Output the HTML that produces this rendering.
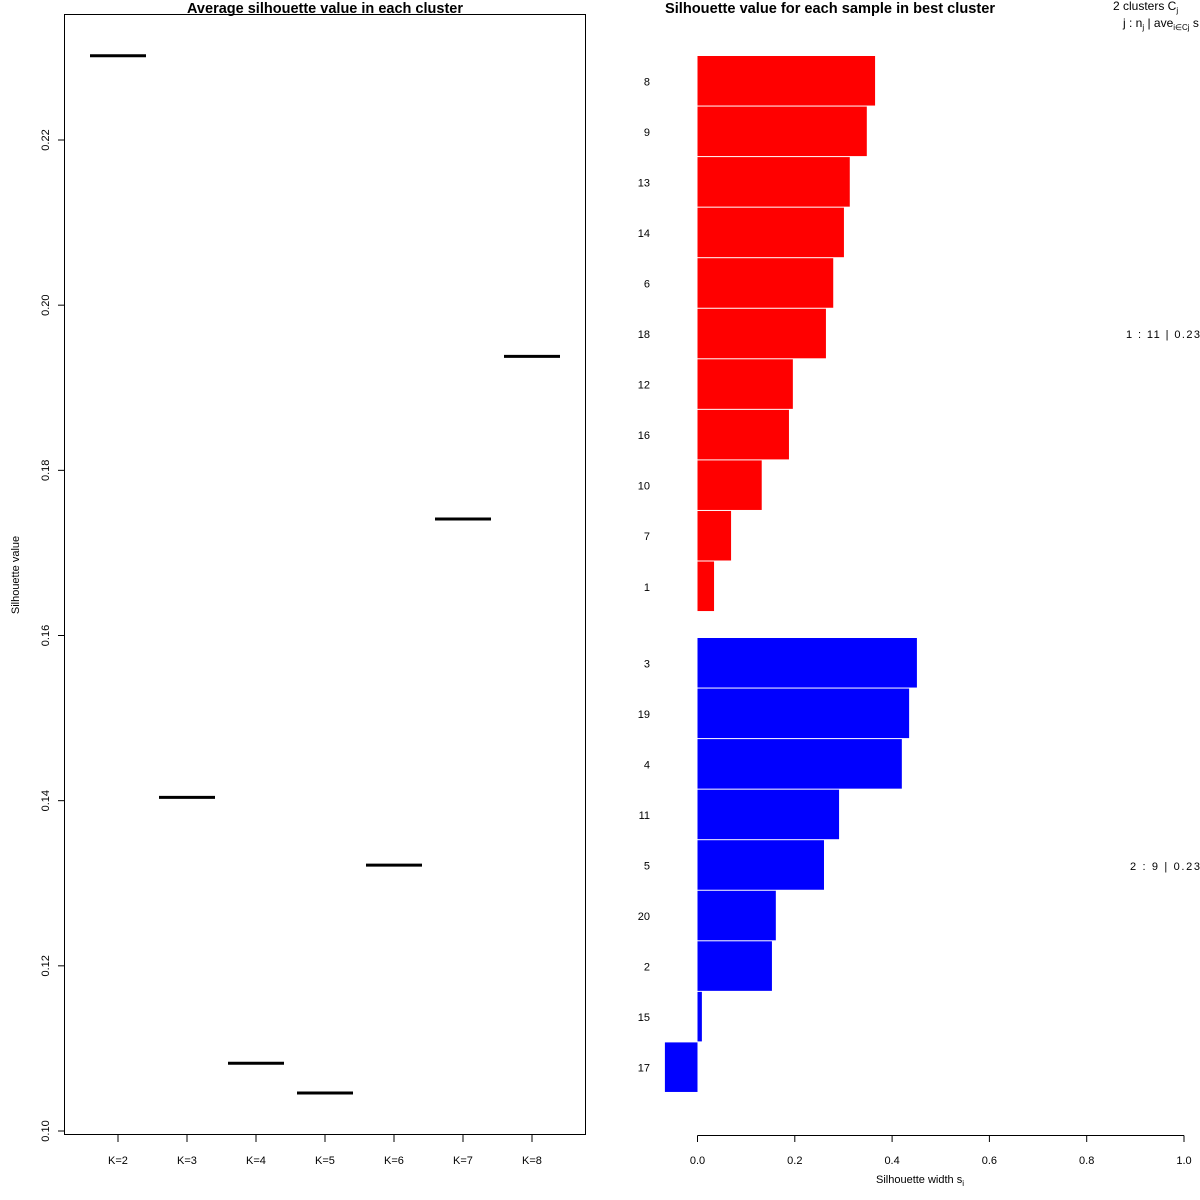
<!DOCTYPE html>
<html><head><meta charset="utf-8"><style>
body{margin:0;background:#fff}
svg{display:block;font-family:"Liberation Sans",sans-serif}
</style></head><body>
<svg id="s" width="1200" height="1200" xmlns="http://www.w3.org/2000/svg">
<rect x="0" y="0" width="1200" height="1200" fill="#fff"/>
<text x="187" y="13" font-size="14.5" font-weight="bold" textLength="276" lengthAdjust="spacingAndGlyphs">Average silhouette value in each cluster</text>
<rect x="64.5" y="14.5" width="521" height="1120" fill="none" stroke="#000"/>
<text transform="translate(19,575) rotate(-90)" text-anchor="middle" font-size="11">Silhouette value</text>
<g id="left"></g>
<text x="665" y="13" font-size="14.5" font-weight="bold" textLength="330" lengthAdjust="spacingAndGlyphs">Silhouette value for each sample in best cluster</text>
<text x="1113" y="10" font-size="12">2  clusters  C<tspan font-size="8" dy="3">j</tspan></text>
<text x="1123" y="27" font-size="12">j :  n<tspan font-size="8" dy="3">j</tspan><tspan dy="-3"> | ave</tspan><tspan font-size="8" dy="3">i∈Cj</tspan><tspan dy="-3">  s</tspan></text>
<text x="876" y="1183" text-anchor="start" font-size="11">Silhouette width s<tspan font-size="8" dy="3">i</tspan></text>
<g id="right"></g>
</svg>
<script>
const kLabels=["K=2","K=3","K=4","K=5","K=6","K=7","K=8"];
const kValues=[0.2302,0.1404,0.1082,0.1046,0.1322,0.1741,0.1938];
const yTicks=[0.10,0.12,0.14,0.16,0.18,0.20,0.22];
const c1Ids=["8","9","13","14","6","18","12","16","10","7","1"];
const c1Vals=[0.365,0.348,0.313,0.301,0.279,0.264,0.196,0.188,0.132,0.069,0.034];
const c2Ids=["3","19","4","11","5","20","2","15","17"];
const c2Vals=[0.451,0.435,0.420,0.291,0.260,0.161,0.153,0.009,-0.067];
const xTicks=[0,0.2,0.4,0.6,0.8,1.0];
const clusterSummary=["1 :  11  |  0.23","2 :  9  |  0.23"];
const NS="http://www.w3.org/2000/svg";
function mk(p,t,a){const e=document.createElementNS(NS,t);for(const k in a)e.setAttribute(k,a[k]);p.appendChild(e);return e;}
const L=document.getElementById('left'),R=document.getElementById('right');
const ly=v=>1131-(v-0.10)*(991/0.12);
const lx=i=>118+i*69;
yTicks.forEach(t=>{
 const e=mk(L,'line',{x1:58,x2:64.5,y1:ly(t),y2:ly(t),stroke:'#000'});
 
 
 const tx=mk(L,'text',{transform:`translate(49,${ly(t)}) rotate(-90)`,'text-anchor':'middle','font-size':11});
 tx.textContent=t.toFixed(2);
 
 
});
kLabels.forEach((k,i)=>{
 const e=mk(L,'line',{x1:lx(i),x2:lx(i),y1:1135,y2:1142,stroke:'#000'});
 
 
 const tx=mk(L,'text',{x:lx(i),y:1164,'text-anchor':'middle','font-size':11});
 tx.textContent=k;
 
 
 const s=mk(L,'line',{x1:lx(i)-28,x2:lx(i)+28,y1:ly(kValues[i]),y2:ly(kValues[i]),stroke:'#000','stroke-width':3});
 
 
});
const rx=v=>697.5+v*486.5;
const pitch=50.55;
function bars(ids,vals,top,color,name){
 ids.forEach((id,i)=>{
  const y=top+i*pitch,v=vals[i];
  const b=mk(R,'rect',{x:Math.min(rx(0),rx(v)),y:y,width:Math.abs(rx(v)-rx(0)),height:pitch-1,fill:color});
  
  
  const t=mk(R,'text',{x:650,y:y+pitch/2+4,'text-anchor':'end','font-size':11});
  t.textContent=id;
  
  
 });
}
bars(c1Ids,c1Vals,56,'#f00','cluster1');
bars(c2Ids,c2Vals,638,'#00f','cluster2');
[[334,0,1126,74],[866,1,1130,70]].forEach(([y,i,x,w])=>{
 const t=mk(R,'text',{x:x,y:y+4,'font-size':11,textLength:w,lengthAdjust:'spacing'});
 t.textContent=clusterSummary[i];
 
 
});
const ax=mk(R,'line',{x1:rx(0),x2:rx(1),y1:1135.5,y2:1135.5,stroke:'#000'});


xTicks.forEach(t=>{
 const e=mk(R,'line',{x1:rx(t),x2:rx(t),y1:1135.5,y2:1142,stroke:'#000'});
 
 
 const tx=mk(R,'text',{x:rx(t),y:1164,'text-anchor':'middle','font-size':11});
 tx.textContent=t.toFixed(1);
 
 
});
</script>
</body></html>
